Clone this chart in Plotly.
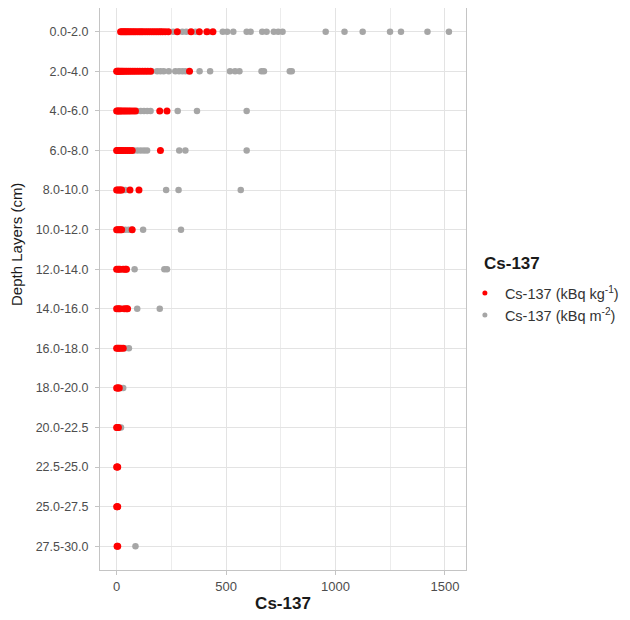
import plotly.graph_objects as go

depth_layers = ["0.0-2.0", "2.0-4.0", "4.0-6.0", "6.0-8.0", "8.0-10.0", "10.0-12.0",
                "12.0-14.0", "14.0-16.0", "16.0-18.0", "18.0-20.0", "20.0-22.5",
                "22.5-25.0", "25.0-27.5", "27.5-30.0"]

# Cs-137 (kBq kg-1) per depth layer
cs_kg = {
    "0.0-2.0": [18, 24, 30, 36, 42, 48, 55, 62, 70, 78, 86, 95, 104, 112, 120, 130, 140,
                150, 160, 170, 180, 190, 200, 210, 222, 236, 277, 340, 378, 412, 440],
    "2.0-4.0": [0, 4, 8, 12, 18, 24, 30, 38, 46, 55, 64, 74, 84, 95, 106, 118, 130,
                142, 155, 333],
    "4.0-6.0": [0, 5, 10, 16, 22, 30, 38, 46, 55, 64, 75, 86, 197, 230],
    "6.0-8.0": [0, 5, 10, 16, 22, 30, 40, 50, 60, 71, 200],
    "8.0-10.0": [0, 6, 12, 18, 23, 61, 102],
    "10.0-12.0": [0, 6, 12, 18, 23, 71],
    "12.0-14.0": [0, 8, 15, 30, 40, 45],
    "14.0-16.0": [0, 8, 15, 35, 45, 50],
    "16.0-18.0": [0, 6, 12, 20, 30],
    "18.0-20.0": [0, 4, 8, 12],
    "20.0-22.5": [0, 4, 8],
    "22.5-25.0": [0, 3, 5],
    "25.0-27.5": [0, 3, 5],
    "27.5-30.0": [2, 5],
}

# Cs-137 (kBq m-2) per depth layer
cs_m2 = {
    "0.0-2.0": [200, 258, 300, 318, 360, 420, 485, 505, 533, 594, 612, 665, 685, 718,
                738, 758, 955, 1041, 1124, 1249, 1299, 1420, 1518],
    "2.0-4.0": [160, 185, 200, 215, 238, 268, 285, 300, 314, 379, 427, 518, 541, 561,
                662, 673, 791, 800],
    "4.0-6.0": [94, 110, 125, 140, 155, 279, 367, 594],
    "6.0-8.0": [79, 95, 110, 125, 139, 286, 314, 594],
    "8.0-10.0": [30, 40, 226, 283, 567],
    "10.0-12.0": [25, 40, 55, 70, 121, 294],
    "12.0-14.0": [20, 82, 218, 230],
    "14.0-16.0": [25, 94, 197],
    "16.0-18.0": [37, 56],
    "18.0-20.0": [20, 30],
    "20.0-22.5": [12, 20],
    "22.5-25.0": [],
    "25.0-27.5": [],
    "27.5-30.0": [86],
}

x_ticks = [0, 500, 1000, 1500]
x_minor = [250, 750, 1250]

series_names = ["Cs-137 (kBq kg<sup>-1</sup>)", "Cs-137 (kBq m<sup>-2</sup>)"]
series_colors = ["#ff0000", "#a6a6a6"]


def flatten(d):
    xs, ys = [], []
    for layer in depth_layers:
        for v in d[layer]:
            xs.append(v)
            ys.append(layer)
    return xs, ys


gx, gy = flatten(cs_m2)
rx, ry = flatten(cs_kg)

fig = go.Figure()
fig.add_trace(go.Scatter(
    x=gx, y=gy, mode="markers", showlegend=False,
    marker=dict(color=series_colors[1], size=6.5, line=dict(width=0))))
fig.add_trace(go.Scatter(
    x=rx, y=ry, mode="markers", showlegend=False,
    marker=dict(color=series_colors[0], size=7, line=dict(width=0))))
# legend entries (smaller keys, as in the reference)
for name, col in zip(series_names, series_colors):
    fig.add_trace(go.Scatter(
        x=[None], y=[None], mode="markers", name=name,
        marker=dict(color=col, size=5, line=dict(width=0))))

font = "Liberation Sans, Arial, sans-serif"
fig.update_layout(
    width=630, height=620,
    margin=dict(l=92, r=172, t=0, b=58),
    paper_bgcolor="white", plot_bgcolor="white",
    font=dict(family=font, color="#4d4d4d", size=12),
    showlegend=True,
    legend=dict(
        x=0.997, xanchor="left", y=0.521, yanchor="top",
        font=dict(size=14.5, color="#333333"),
        bgcolor="rgba(0,0,0,0)", tracegroupgap=0,
    ),
    annotations=[
        dict(text="<b>Cs-137</b>", xref="paper", yref="paper",
             x=1.0437, xanchor="left", y=0.546, yanchor="middle",
             showarrow=False, font=dict(size=17, color="#1a1a1a")),
        dict(text="Depth Layers (cm)", xref="paper", yref="paper", textangle=-90,
             x=(8 - 92) / 366, xanchor="center", y=(562 - 237) / 562, yanchor="middle",
             showarrow=False, font=dict(size=15, color="#1a1a1a")),
    ],
    xaxis=dict(
        range=[-76, 1596], tickvals=x_ticks,
        showgrid=True, gridcolor="#e3e3e3", gridwidth=1,
        minor=dict(tickvals=x_minor, showgrid=True, gridcolor="#ececec", gridwidth=1),
        showline=True, linecolor="#c4c4c4", linewidth=1, mirror=True,
        ticks="outside", ticklen=4, tickcolor="#c4c4c4",
        zeroline=False, automargin=False,
        title=dict(text="<b>Cs-137</b>", font=dict(size=17, color="#1a1a1a"), standoff=4),
        tickfont=dict(size=13, color="#4d4d4d"),
    ),
    yaxis=dict(
        categoryorder="array", categoryarray=depth_layers,
        range=[len(depth_layers) - 1 + 0.6, -0.6],
        showgrid=True, gridcolor="#e3e3e3", gridwidth=1,
        showline=True, linecolor="#c4c4c4", linewidth=1, mirror=True,
        ticks="outside", ticklen=4, tickcolor="#c4c4c4", ticklabelstandoff=4,
        zeroline=False, automargin=False,
        tickfont=dict(size=12.5, color="#4d4d4d"),
    ),
)

fig.write_html("out.html")
